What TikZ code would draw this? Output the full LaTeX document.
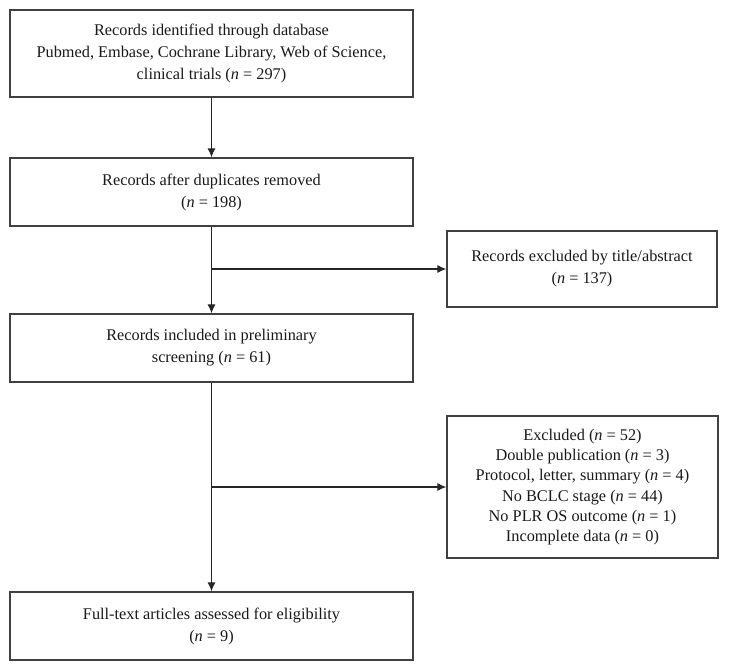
\documentclass[tikz,border=0pt]{standalone}
\usepackage{fontspec}
\setmainfont{Liberation Serif}
\usetikzlibrary{arrows.meta}

\tikzset{
	box/.style={draw=black!75, line width=1.3pt, align=center, inner sep=0pt, text=black!90,
		font=\fontsize{16.3}{22}\selectfont},
	arr/.style={draw=black!85, line width=1.1pt, -{Latex[length=9pt,width=8pt]}}
}

\begin{document}
\begin{tikzpicture}[x=1pt,y=-1pt]
		\useasboundingbox (0,0) rectangle (729,671);

		\node[box, minimum width=403pt, minimum height=87pt] (ident) at (211.5,53.5)
			{Records identified through database\\Pubmed, Embase, Cochrane Library, Web of Science,\\clinical trials (\textit{n} = 297)};
		\node[box, minimum width=403pt, minimum height=68pt] (dup) at (211.5,192)
			{Records after duplicates removed\\(\textit{n} = 198)};
		\node[box, minimum width=270pt, minimum height=76pt] (excltitle) at (582,269)
			{Records excluded by title/abstract\\(\textit{n} = 137)};
		\node[box, minimum width=403pt, minimum height=68pt] (prelim) at (211.5,348)
			{Records included in preliminary\\screening (\textit{n} = 61)};
		\node[box, minimum width=271pt, minimum height=142pt, font=\fontsize{16.3}{20.2}\selectfont] (exclfull) at (582.5,487)
			{Excluded (\textit{n} = 52)\\Double publication (\textit{n} = 3)\\Protocol, letter, summary (\textit{n} = 4)\\No BCLC stage (\textit{n} = 44)\\No PLR OS outcome (\textit{n} = 1)\\Incomplete data (\textit{n} = 0)};
		\node[box, minimum width=403pt, minimum height=68pt] (fulltext) at (211.5,626)
			{Full-text articles assessed for eligibility\\(\textit{n} = 9)};

		\draw[arr] (ident.south) -- (dup.north);
		\draw[arr] (dup.south) -- (prelim.north);
		\draw[arr] (dup.south |- excltitle.west) -- (excltitle.west);
		\draw[arr] (prelim.south) -- (fulltext.north);
		\draw[arr] (prelim.south |- exclfull.west) -- (exclfull.west);
	\end{tikzpicture}
\end{document}
